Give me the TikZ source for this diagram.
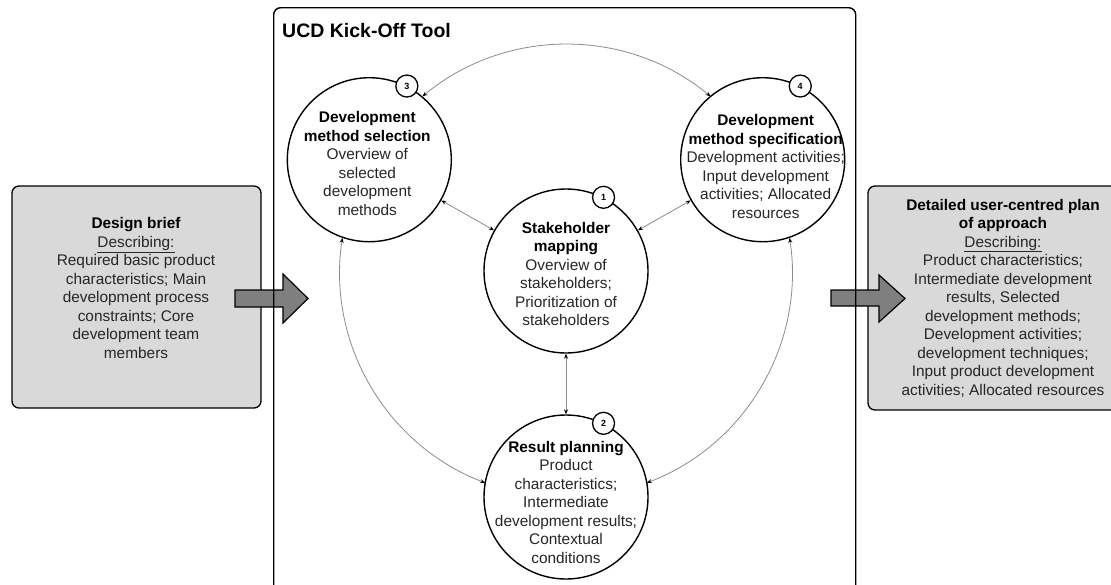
\documentclass[tikz,border=0pt]{standalone}
\usepackage{fontspec}
\setmainfont{Liberation Sans}
\usetikzlibrary{calc,arrows.meta}
\definecolor{boxgray}{HTML}{D9D9D9}
\definecolor{arrowgray}{HTML}{7F7F7F}
\definecolor{conngray}{HTML}{8C8C8C}
\definecolor{txt}{HTML}{262626}
\begin{document}
\begin{tikzpicture}[x=1pt,y=1pt,
  stage/.style={circle,draw=black,line width=1.4pt,minimum size=164pt,inner sep=0pt,fill=white},
  stagetext/.style={align=center,inner sep=0pt,font=\fontsize{15.4}{18.5}\selectfont,text=txt},
  badge/.style={circle,draw=black,line width=1.3pt,fill=white,minimum size=22pt,inner sep=0pt,font=\bfseries\fontsize{9}{9}\selectfont},
  conn/.style={draw=conngray,line width=0.8pt,{Stealth[length=5pt,width=4pt,black]}-{Stealth[length=5pt,width=4pt,black]}},
  sidebox/.style={draw=black,line width=1.3pt,fill=boxgray,rounded corners=7pt,inner sep=0pt},
  bigarrow/.style={draw=black,line width=1.2pt,fill=arrowgray,line join=miter},
  toolbox/.style={draw=black,line width=1.4pt,rounded corners=7pt,inner sep=0pt},
]
\clip (0,0) rectangle (1111,-584);
\fill[white] (0,0) rectangle (1111,-584);

% side boxes
\node[sidebox,minimum width=249pt,minimum height=222pt] (brief) at (136.5,-297) {};
\node[sidebox,minimum width=272pt,minimum height=224pt] (plan) at (1004,-298) {};
\node[stagetext] (brieftext) at (136,-288) {\textbf{\color{black}Design brief}\\ \underline{Describing:}\\ Required basic product\\ characteristics; Main\\ development process\\ constraints; Core\\ development team\\ members};
\node[stagetext] (plantext) at (1003,-298) {\textbf{\color{black}Detailed user-centred plan}\\ \textbf{\color{black}of approach}\\ \underline{Describing:}\\ Product characteristics;\\ Intermediate development\\ results, Selected\\ development methods;\\ Development activities;\\ development techniques;\\ Input product development\\ activities; Allocated resources};

% big arrows
\draw[bigarrow] (235,-290) -- (283,-290) -- (283,-274) -- (308,-298.5) -- (283,-323) -- (283,-307) -- (235,-307) -- cycle;
\draw[bigarrow] (831,-290) -- (879,-290) -- (879,-275) -- (905,-298.5) -- (879,-322) -- (879,-306) -- (831,-306) -- cycle;

% main tool box
\node[toolbox,anchor=north west,minimum width=582pt,minimum height=620pt] (tool) at (273,-7) {};
\node[anchor=base west,inner sep=0pt,font=\bfseries\fontsize{19.5}{20}\selectfont] (title) at (282,-37) {UCD Kick-Off Tool};

% stages
\coordinate (hub) at (566,-271);
\node[stage] (c1) at (hub) {};
\node[stage] (c2) at ($(hub)+(270:226)$) {};
\node[stage] (c3) at ($(hub)+(150.5:226)$) {};
\node[stage] (c4) at ($(hub)+(29.5:226)$) {};

% connectors
\draw[conn] (c3) -- (c1);
\draw[conn] (c4) -- (c1);
\draw[conn] (c1) -- (c2);
\draw[conn] (c3.50) arc[start angle=129.6,end angle=50.4,radius=226];
\draw[conn] (c3.251) arc[start angle=171.4,end angle=249.1,radius=226];
\draw[conn] (c4.289) arc[start angle=8.6,end angle=-69.1,radius=226];

% texts
\node[stagetext] (t1) at ($(c1)+(0,-3)$) {\textbf{\color{black}Stakeholder}\\ \textbf{\color{black}mapping}\\ Overview of\\ stakeholders;\\ Prioritization of\\ stakeholders};
\node[stagetext] (t2) at ($(c2)+(0,-5)$) {\textbf{\color{black}Result planning}\\ Product\\ characteristics;\\ Intermediate\\ development results;\\ Contextual\\ conditions};
\node[stagetext] (t3) at ($(c3)+(-2,-4)$) {\textbf{\color{black}Development}\\ \textbf{\color{black}method selection}\\ Overview of\\ selected\\ development\\ methods};
\node[stagetext] (t4) at ($(c4)+(3,-7)$) {\textbf{\color{black}Development}\\ \textbf{\color{black}method specification}\\ Development activities;\\ Input development\\ activities; Allocated\\ resources};

% badges
\node[badge] (b1) at (c1.63) {1};
\node[badge] (b2) at (c2.63) {2};
\node[badge] (b3) at (c3.63) {3};
\node[badge] (b4) at (c4.63) {4};
\end{tikzpicture}
\end{document}
